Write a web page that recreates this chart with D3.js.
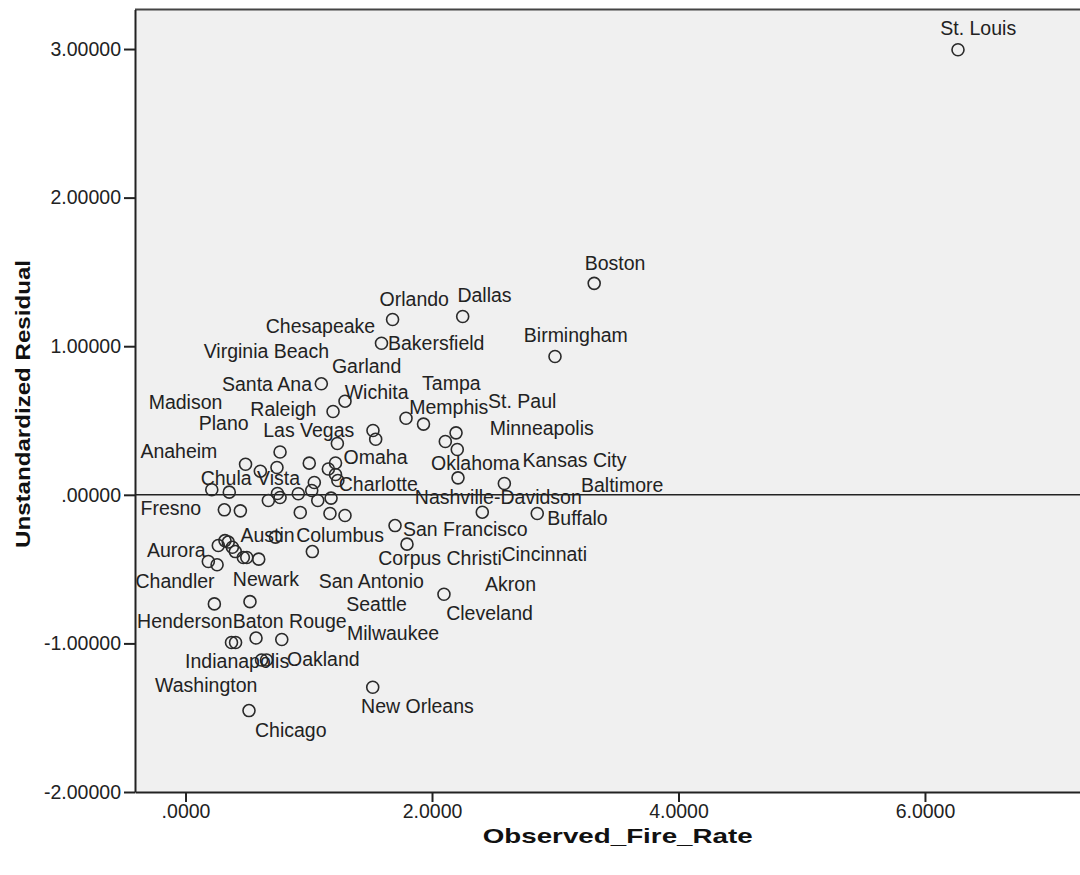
<!DOCTYPE html>
<html>
<head>
<meta charset="utf-8">
<script src="https://cdn.jsdelivr.net/npm/d3@7"></script>
<style>
  body { margin: 0; background: #fff; }
  text { font-family: "Liberation Sans", Arial, sans-serif; }
</style>
</head>
<body>
<svg id="chart"></svg>
<script>
const d3 = window.d3

// observed fire rate (x) and unstandardized residual (y), one entry per city point
let fireRate = [6.268, 3.316, 1.680, 2.249, 1.590, 2.998, 1.102, 1.294, 1.197, 1.789,
  1.931, 1.521, 1.543, 1.232, 2.195, 2.108, 2.205, 2.211, 2.587, 0.767,
  0.487, 0.607, 0.742, 1.004, 1.217, 1.159, 1.217, 1.236, 1.045, 0.213,
  0.355, 0.672, 0.746, 0.767, 0.915, 1.024, 1.073, 1.181, 0.315, 0.445,
  0.931, 1.172, 1.294, 2.408, 2.854, 1.700, 1.797, 0.730, 1.029, 0.266,
  0.320, 0.347, 0.380, 0.404, 0.469, 0.497, 0.594, 0.185, 0.256, 2.097,
  0.234, 0.523, 0.373, 0.406, 0.572, 0.781, 0.617, 0.657, 1.519, 0.515]

let residual = [2.995, 1.423, 1.180, 1.200, 1.020, 0.931, 0.747, 0.630, 0.561, 0.515,
  0.476, 0.433, 0.374, 0.345, 0.417, 0.359, 0.305, 0.114, 0.076, 0.288,
  0.206, 0.159, 0.184, 0.213, 0.214, 0.174, 0.137, 0.096, 0.083, 0.034,
  0.018, -0.038, 0.009, -0.018, 0.007, 0.029, -0.038, -0.022, -0.101, -0.108,
  -0.119, -0.126, -0.139, -0.117, -0.126, -0.207, -0.332, -0.285, -0.382, -0.341,
  -0.308, -0.318, -0.353, -0.382, -0.422, -0.422, -0.433, -0.449, -0.471, -0.669,
  -0.734, -0.719, -0.994, -0.994, -0.964, -0.974, -1.112, -1.112, -1.295, -1.452]

// case labels and where SPSS put them (in data units)
let labelNames = ['St. Louis', 'Boston', 'Orlando', 'Dallas', 'Chesapeake', 'Bakersfield',
  'Birmingham', 'Virginia Beach', 'Garland', 'Santa Ana', 'Wichita', 'Tampa', 'Madison',
  'Raleigh', 'Memphis', 'St. Paul', 'Plano', 'Las Vegas', 'Minneapolis', 'Anaheim', 'Omaha',
  'Oklahoma', 'Kansas City', 'Chula Vista', 'Charlotte', 'Nashville-Davidson', 'Baltimore',
  'Fresno', 'Buffalo', 'Austin', 'Columbus', 'San Francisco', 'Aurora', 'Corpus Christi',
  'Cincinnati', 'Chandler', 'Newark', 'San Antonio', 'Akron', 'Seattle', 'Cleveland',
  'Henderson', 'Baton Rouge', 'Milwaukee', 'Indianapolis', 'Oakland', 'Washington',
  'New Orleans', 'Chicago']

let labelX = [6.432, 3.485, 1.856, 2.426, 1.095, 2.034, 3.167, 0.656, 1.469, 0.661,
  1.551, 2.157, 0.000, 0.794, 2.136, 2.732, 0.310, 1.000, 2.890, -0.054,
  1.542, 2.353, 3.156, 0.526, 1.564, 2.538, 3.543, -0.119, 3.181, 0.665,
  1.254, 2.270, -0.075, 2.065, 2.911, -0.085, 0.652, 1.507, 2.637, 1.550,
  2.467, -0.006, 0.845, 1.684, 0.419, 1.118, 0.168, 1.882, 0.854]

let labelY = [3.141, 1.563, 1.321, 1.345, 1.134, 1.025, 1.075, 0.966, 0.865, 0.746,
  0.692, 0.754, 0.627, 0.579, 0.594, 0.631, 0.481, 0.433, 0.450, 0.296,
  0.252, 0.214, 0.236, 0.110, 0.074, -0.013, 0.063, -0.087, -0.159, -0.269,
  -0.269, -0.230, -0.369, -0.425, -0.397, -0.582, -0.569, -0.579, -0.599, -0.735,
  -0.793, -0.851, -0.846, -0.933, -1.120, -1.107, -1.278, -1.421, -1.584]

let xTicks = [0, 2, 4, 6]
let xTickLabels = ['.0000', '2.0000', '4.0000', '6.0000']
let yTicks = [-2, -1, 0, 1, 2, 3]
let yTickLabels = ['-2.00000', '-1.00000', '.00000', '1.00000', '2.00000', '3.00000']

let width = 1080
let height = 875
let plotLeft = 135
let plotTop = 9.5
let plotBottom = 792

let points = fireRate.map((x, i) => ({ x: x, y: residual[i] }))
let labels = labelNames.map((name, i) => ({ name: name, x: labelX[i], y: labelY[i] }))

let xScale = d3.scaleLinear()
                .domain([-0.41, 7.258])
                .range([plotLeft, width])

let yScale = d3.scaleLinear()
                .domain([-2, 3.266])
                .range([plotBottom, plotTop])

let svg = d3.select('#chart')
    .attr('width', width)
    .attr('height', height)

svg.append('rect')
    .attr('width', width)
    .attr('height', height)
    .attr('fill', '#fff')

// plot background
svg.append('rect')
    .attr('x', plotLeft)
    .attr('y', plotTop)
    .attr('width', width - plotLeft + 2)
    .attr('height', plotBottom - plotTop)
    .attr('fill', '#f0f0f0')

// top frame line
svg.append('line')
    .attr('x1', plotLeft)
    .attr('x2', width)
    .attr('y1', plotTop)
    .attr('y2', plotTop)
    .attr('stroke', '#444')
    .attr('stroke-width', 2)

let xAxis = d3.axisBottom(xScale)
              .tickValues(xTicks)
              .tickFormat((d, i) => xTickLabels[i])
              .tickSize(10)
              .tickSizeOuter(0)
              .tickPadding(2)

let yAxis = d3.axisLeft(yScale)
              .tickValues(yTicks)
              .tickFormat((d, i) => yTickLabels[i])
              .tickSize(11)
              .tickSizeOuter(0)
              .tickPadding(3)

let gx = svg.append('g')
    .attr('transform', `translate(0, ${plotBottom})`)
    .call(xAxis)

let gy = svg.append('g')
    .attr('transform', `translate(${plotLeft}, 0)`)
    .call(yAxis)

for (let g of [gx, gy]) {
  g.select('.domain').attr('stroke', '#222').attr('stroke-width', 2)
  g.selectAll('.tick line').attr('stroke', '#222').attr('stroke-width', 2)
  g.selectAll('.tick text')
      .attr('fill', '#222')
      .style('font-size', '19.5px')
      .style('font-family', '"Liberation Sans", Arial, sans-serif')
}

// reference line at residual = 0
svg.append('line')
    .attr('x1', plotLeft)
    .attr('x2', width)
    .attr('y1', yScale(0))
    .attr('y2', yScale(0))
    .attr('stroke', '#222')
    .attr('stroke-width', 1.6)

svg.append('g')
  .selectAll('circle')
  .data(points)
  .enter()
  .append('circle')
    .attr('cx', d => xScale(d.x))
    .attr('cy', d => yScale(d.y))
    .attr('r', 6)
    .attr('fill', 'none')
    .attr('stroke', '#2a2a2a')
    .attr('stroke-width', 1.6)

svg.append('g')
  .selectAll('text')
  .data(labels)
  .enter()
  .append('text')
    .attr('x', d => xScale(d.x))
    .attr('y', d => yScale(d.y))
    .attr('dy', '0.36em')
    .style('text-anchor', 'middle')
    .style('font-size', '19.5px')
    .attr('fill', '#222')
    .text(d => d.name)

// y-axis label:
svg.append('text')
    .attr('transform', 'rotate(-90)')
    .attr('x', -404)
    .attr('y', 22)
    .attr('dy', '0.36em')
    .style('text-anchor', 'middle')
    .style('font-size', '21px')
    .style('font-weight', 'bold')
    .attr('fill', '#111')
    .attr('textLength', 288)
    .attr('lengthAdjust', 'spacingAndGlyphs')
    .text('Unstandardized Residual')

// x-axis label:
svg.append('text')
    .attr('x', 617.7)
    .attr('y', 835)
    .attr('dy', '0.36em')
    .style('text-anchor', 'middle')
    .style('font-size', '21px')
    .style('font-weight', 'bold')
    .attr('fill', '#111')
    .attr('textLength', 270)
    .attr('lengthAdjust', 'spacingAndGlyphs')
    .text('Observed_Fire_Rate')
</script>
</body>
</html>
